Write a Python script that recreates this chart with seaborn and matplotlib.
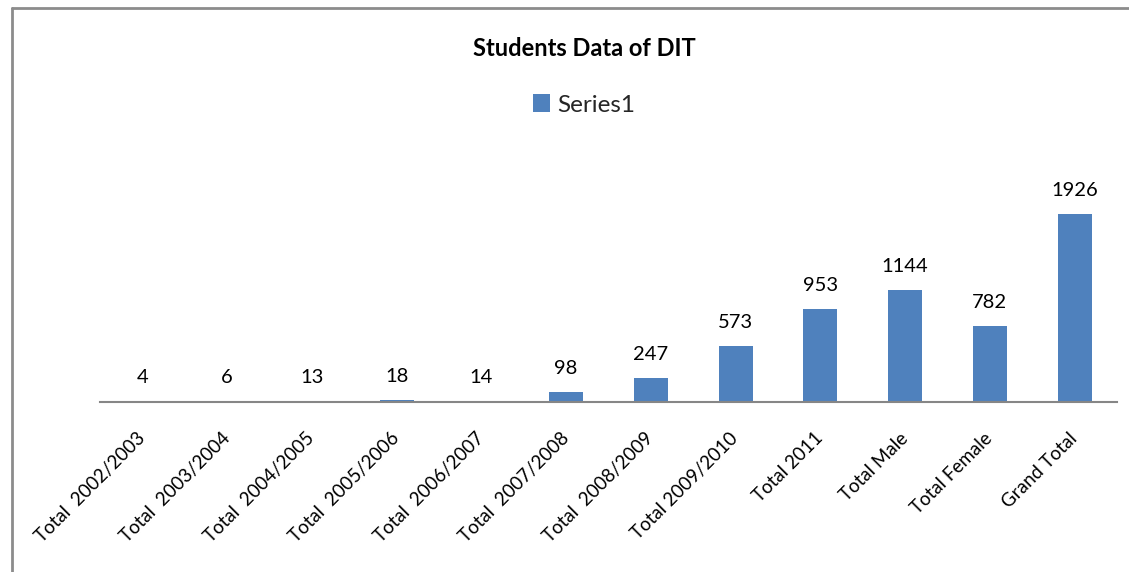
import matplotlib
matplotlib.use("Agg")
import matplotlib.pyplot as plt
import seaborn as sns
import pandas as pd
from matplotlib.lines import Line2D
from matplotlib.patches import Patch

categories = ["Total  2002/2003", "Total  2003/2004", "Total  2004/2005", "Total  2005/2006",
              "Total  2006/2007", "Total  2007/2008", "Total  2008/2009", "Total 2009/2010",
              "Total 2011", "Total Male", "Total Female", "Grand Total"]
values = [4, 6, 13, 18, 14, 98, 247, 573, 953, 1144, 782, 1926]
series_name = "Series1"
title = "Students Data of DIT"

sns.set_theme(style="white")
plt.rcParams['font.family'] = ['Lato', 'DejaVu Sans']

df = pd.DataFrame({"cat": categories, "val": values})

W, H = 1129, 572
fig = plt.figure(figsize=(W / 100, H / 100), dpi=100)
x0, x1 = 100, 1117
yb = 402
ytop = yb - 2000 * (188 / 1926)
ax = fig.add_axes([x0 / W, (H - yb) / H, (x1 - x0) / W, (yb - ytop) / H])

bar_color = "#4F81BD"
sns.barplot(data=df, x="cat", y="val", color=bar_color, width=0.4, ax=ax,
            saturation=1, edgecolor="none")
ax.set_xlim(-0.5, len(categories) - 0.5)
ax.set_ylim(0, 2000)
ax.set_xlabel("")
ax.set_ylabel("")
ax.set_yticks([])
for s in ["top", "right", "left"]:
    ax.spines[s].set_visible(False)
ax.spines["bottom"].set_color("#868686")
ax.spines["bottom"].set_linewidth(1.5)
ax.tick_params(axis="x", length=0, pad=24)
ax.set_xticks(range(len(categories)))
ax.set_xticklabels(categories, rotation=45, ha="right", va="center",
                   rotation_mode="anchor", fontsize=13.5, color="black")

for i, v in enumerate(values):
    ax.annotate(str(v), (i, v), xytext=(0, 17), textcoords="offset points",
                ha="center", va="center", fontsize=14.5, color="black",
                annotation_clip=False)

fig.text(0.5175, 1 - 48 / H, title, ha="center", va="center", fontsize=17,
         fontweight="bold", color="black")

handle = Patch(facecolor=bar_color, edgecolor="none")
fig.legend([handle], [series_name], loc="center", bbox_to_anchor=(0.517, 1 - 105 / H),
           frameon=False, fontsize=17.5, handlelength=0.7, handleheight=0.7,
           handletextpad=0.3)

fig.add_artist(Line2D([11.5 / W, 11.5 / W], [0, 1 - 8 / H], transform=fig.transFigure,
                      color="#8c8c8c", linewidth=2))
fig.add_artist(Line2D([11.5 / W, 1], [1 - 8 / H, 1 - 8 / H], transform=fig.transFigure,
                      color="#8c8c8c", linewidth=2))

fig.savefig("out.png", dpi=100, facecolor="white")
